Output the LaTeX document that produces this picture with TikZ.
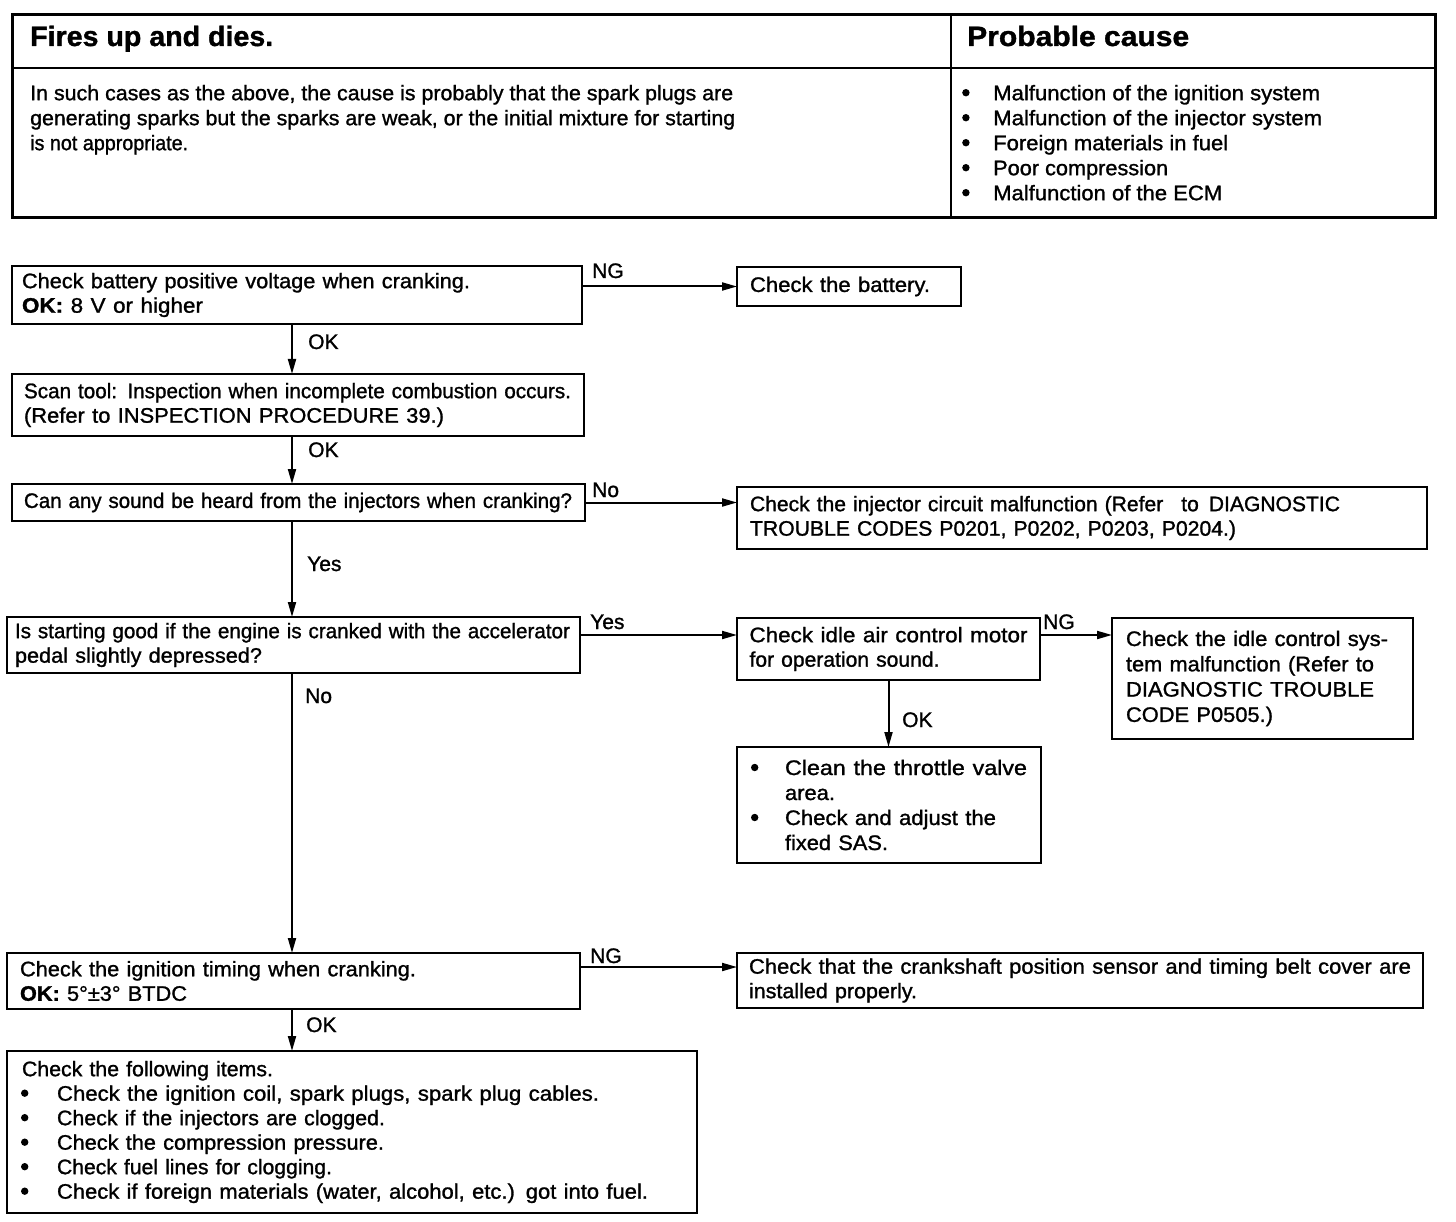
\documentclass[tikz,border=0pt]{standalone}
\usepackage{fontspec}
\setmainfont{Liberation Sans}[FakeBold=1.2]
\usepackage{graphicx}
\usetikzlibrary{arrows.meta,calc}
\newcommand\fl[2]{\resizebox{#1pt}{\height}{#2}}
\newcommand\bul[1]{\makebox[#1pt][l]{\tikz[baseline={(0pt,0pt)}]\fill (3.8pt,7.5pt) circle[radius=3.7pt];}}
\begin{document}
\begin{tikzpicture}[x=1pt,y=-1pt,
  bx/.style={draw, line width=2.6pt, anchor=north west, outer sep=0pt, inner ysep=0pt, align=left, font=\fontsize{21}{24.5}\selectfont},
  lbl/.style={anchor=base west, inner sep=0pt, font=\fontsize{21}{24.5}\selectfont},
  arr/.style={line width=2pt, -{Triangle[length=15pt,width=8pt]}},
  ]
\fill[white] (0,0) rectangle (1456,1222);
\useasboundingbox (0,0) rectangle (1456,1222);

% ---------- header table ----------
\draw[line width=3pt] (12,15) rectangle (1435,218);
\draw[line width=2pt] (12,68) -- (1435,68);
\draw[line width=1.5pt] (951,15) -- (951,218);
\node[anchor=base west, inner sep=0pt, font=\bfseries\fontsize{28}{30}\selectfont] (title) at (30,46) {\fl{243}{Fires up and dies.}};
\node[anchor=base west, inner sep=0pt, font=\bfseries\fontsize{28}{30}\selectfont] (cause) at (967,46) {\fl{222}{Probable cause}};
\node[anchor=north west, inner sep=0pt, align=left, font=\fontsize{21}{25}\selectfont] (desc) at (30,84)
  {\rule{0pt}{16pt}\fl{703}{In such cases as the above, the cause is probably that the spark plugs are}\\
   \fl{705}{generating sparks but the sparks are weak, or the initial mixture for starting}\\
   \fl{158}{is not appropriate.}};
\node[anchor=north west, inner sep=0pt, align=left, font=\fontsize{21}{25}\selectfont] (causes) at (962,84)
  {\rule{0pt}{16pt}\bul{31}\fl{327}{Malfunction of the ignition system}\\
   \bul{31}\fl{329}{Malfunction of the injector system}\\
   \bul{31}\fl{235}{Foreign materials in fuel}\\
   \bul{31}\fl{175}{Poor compression}\\
   \bul{31}\fl{229}{Malfunction of the ECM}};

% ---------- flow boxes ----------
\node[bx, inner xsep=10pt, text width=550pt, minimum height=58pt] (b1) at (12,266)
  {\fl{448}{Check battery positive voltage when cranking.}\\ \fl{181}{\textbf{OK:} 8 V or higher}};
\node[bx, inner xsep=13pt, text width=198pt, minimum height=39pt] (bat) at (737,267)
  {\fl{180}{Check the battery.}};
\node[bx, inner xsep=12pt, text width=548pt, minimum height=62pt] (b2) at (12,374)
  {\fl{547}{Scan tool: Inspection when incomplete combustion occurs.}\\ \fl{420}{(Refer to INSPECTION PROCEDURE 39.)}};
\node[bx, inner xsep=12pt, text width=549pt, minimum height=37pt] (b3) at (12,484)
  {\fl{548}{Can any sound be heard from the injectors when cranking?}};
\node[bx, inner xsep=13pt, text width=664pt, minimum height=62pt] (b3r) at (737,487)
  {\fl{590}{Check the injector circuit malfunction (Refer\hspace{18pt}to\hspace{10pt}DIAGNOSTIC}\\ \fl{486}{TROUBLE CODES P0201, P0202, P0203, P0204.)}};
\node[bx, inner xsep=8pt, text width=557pt, minimum height=56pt] (b4) at (7,617)
  {\fl{555}{Is starting good if the engine is cranked with the accelerator}\\ \fl{247}{pedal slightly depressed?}};
\node[bx, inner xsep=12.5pt, text width=278pt, minimum height=62pt] (b4r) at (737,618)
  {\fl{278}{Check idle air control motor}\\ \fl{190}{for operation sound.}};
\node[bx, inner xsep=14pt, text width=273pt, minimum height=121pt, font=\fontsize{21}{25.3}\selectfont] (b4rr) at (1112,618)
  {\fl{262}{Check the idle control sys-}\\ \fl{248}{tem malfunction (Refer to}\\ \fl{248}{DIAGNOSTIC TROUBLE}\\ \fl{147}{CODE P0505.)}};
\node[bx, inner xsep=14pt, text width=276pt, minimum height=116pt, font=\fontsize{21}{25}\selectfont] (b5) at (737,747)
  {\bul{34}\fl{242}{Clean the throttle valve}\\ \hspace*{34pt}\fl{50}{area.}\\ \bul{34}\fl{211}{Check and adjust the}\\ \hspace*{34pt}\fl{103}{fixed SAS.}};
\node[bx, inner xsep=13pt, text width=547pt, minimum height=56pt] (b6) at (7,953)
  {\fl{396}{Check the ignition timing when cranking.}\\ \fl{167}{\textbf{OK:} 5°±3° BTDC}};
\node[bx, inner xsep=12pt, text width=662pt, minimum height=55pt] (b6r) at (737,953)
  {\fl{662}{Check that the crankshaft position sensor and timing belt cover are}\\ \fl{168}{installed properly.}};
\node[bx, inner xsep=15pt, text width=660pt, minimum height=162pt] (b7) at (7,1051)
  {\fl{251}{Check the following items.}\\
   \hspace*{-1pt}\bul{36}\fl{542}{Check the ignition coil, spark plugs, spark plug cables.}\\
   \hspace*{-1pt}\bul{36}\fl{328}{Check if the injectors are clogged.}\\
   \hspace*{-1pt}\bul{36}\fl{327}{Check the compression pressure.}\\
   \hspace*{-1pt}\bul{36}\fl{275}{Check fuel lines for clogging.}\\
   \hspace*{-1pt}\bul{36}\fl{591}{Check if foreign materials (water, alcohol, etc.) got into fuel.}};

% ---------- connectors ----------
\coordinate (col) at (292,0);
\coordinate (y4) at (0,635);
\coordinate (y6) at (0,967);
\draw[arr] (b1.east |- bat.west) -- (bat.west);
\draw[arr] (b1.south -| col) -- (b2.north -| col);
\draw[arr] (b2.south -| col) -- (b3.north -| col);
\draw[arr] (b3.east) -- (b3.east -| b3r.west);
\draw[arr] (b3.south -| col) -- (b4.north -| col);
\draw[arr] (b4.east |- y4) -- (b4r.west |- y4);
\draw[arr] (b4r.east |- y4) -- (b4rr.west |- y4);
\draw[arr] (b4r.south) -- (b4r.south |- b5.north);
\draw[arr] (b4.south -| col) -- (b6.north -| col);
\draw[arr] (b6.east |- y6) -- (b6r.west |- y6);
\draw[arr] (b6.south -| col) -- (b7.north -| col);

% ---------- labels ----------
\node[lbl] (l1) at (592,278) {NG};
\node[lbl] (l2) at (308,349) {OK};
\node[lbl] (l3) at (308,457) {OK};
\node[lbl] (l4) at (592,497) {No};
\node[lbl] (l5) at (307,571) {Yes};
\node[lbl] (l6) at (590,629) {Yes};
\node[lbl] (l7) at (1043,629) {NG};
\node[lbl] (l8) at (305,703) {No};
\node[lbl] (l9) at (902,727) {OK};
\node[lbl] (l10) at (590,963) {NG};
\node[lbl] (l11) at (306,1032) {OK};
\end{tikzpicture}
\end{document}
